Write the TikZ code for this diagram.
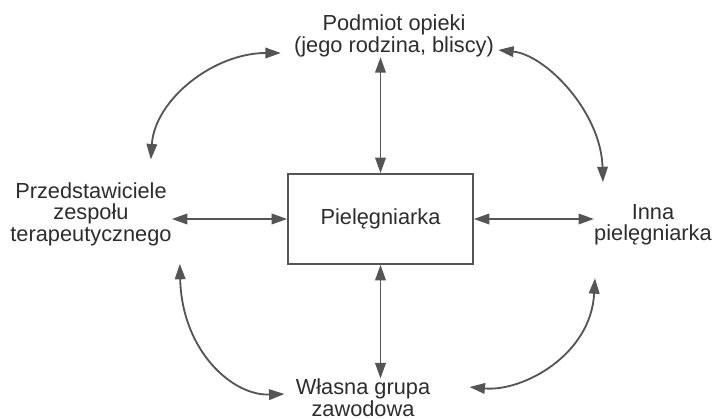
\documentclass[tikz,border=0pt]{standalone}
\usepackage{fontspec}
\setmainfont{Liberation Sans}
\usetikzlibrary{arrows.meta}
\definecolor{linegray}{RGB}{85,85,85}
\definecolor{textgray}{RGB}{45,45,45}
\begin{document}
\begin{tikzpicture}[>={Triangle[length=11pt,width=7.5pt]}]
    \tikzstyle{party}=[align=center,inner sep=0pt,text=textgray,font=\fontsize{15.5}{15.3}\selectfont]
    \tikzstyle{nursebox}=[draw=linegray,line width=1.2pt,minimum width=4.625cm,minimum height=2.25cm,text=textgray,font=\fontsize{15.5}{15.3}\selectfont]
    \tikzstyle{link}=[<->,linegray,line width=1.3pt]
    \useasboundingbox (0,0) rectangle (17.825,10.475);
    \node (nurse)[nursebox] at (9.5125,5.0) {Pielęgniarka};
    \node (patient)[party] at (9.85,9.575) {Podmiot opieki\\(jego rodzina, bliscy)};
    \node (team)[party] at (2.275,5.125) {Przedstawiciele\\zespołu\\terapeutycznego};
    \node (other)[party] at (16.325,4.85) {Inna\\pielęgniarka};
    \node (group)[party] at (9.075,0.5375) {Własna grupa\\zawodowa};
    \draw [link] (nurse.north) -- (nurse.north |- patient.south);
    \draw [link] (nurse.south) -- (nurse.south |- group.north);
    \draw [link] (nurse.west) -- (nurse.west -| team.east);
    \draw [link] (nurse.east) -- (nurse.east -| other.west);
    \draw [link] ([shift={(-0.525,0.565)}]team.north east) .. controls +(0.1,1.5) and +(-1.675,0) .. ([shift={(-0.325,-0.425)}]patient.west);
    \draw [link] ([shift={(0.1,-0.35)}]patient.east) .. controls +(1.2,-0.125) and +(-0.05,1.75) .. ([shift={(0.225,0.55)}]other.north west);
    \draw [link] ([shift={(0.025,-0.81)}]other.south west) .. controls +(-0.1,-1.925) and +(1.325,-0.125) .. ([shift={(0.975,0.2625)}]group.east);
    \draw [link] ([shift={(0.2,-0.4475)}]team.south east) .. controls +(0.05,-2.175) and +(-1.3,-0.05) .. ([shift={(-0.275,0.0875)}]group.west);
\end{tikzpicture}
\end{document}
